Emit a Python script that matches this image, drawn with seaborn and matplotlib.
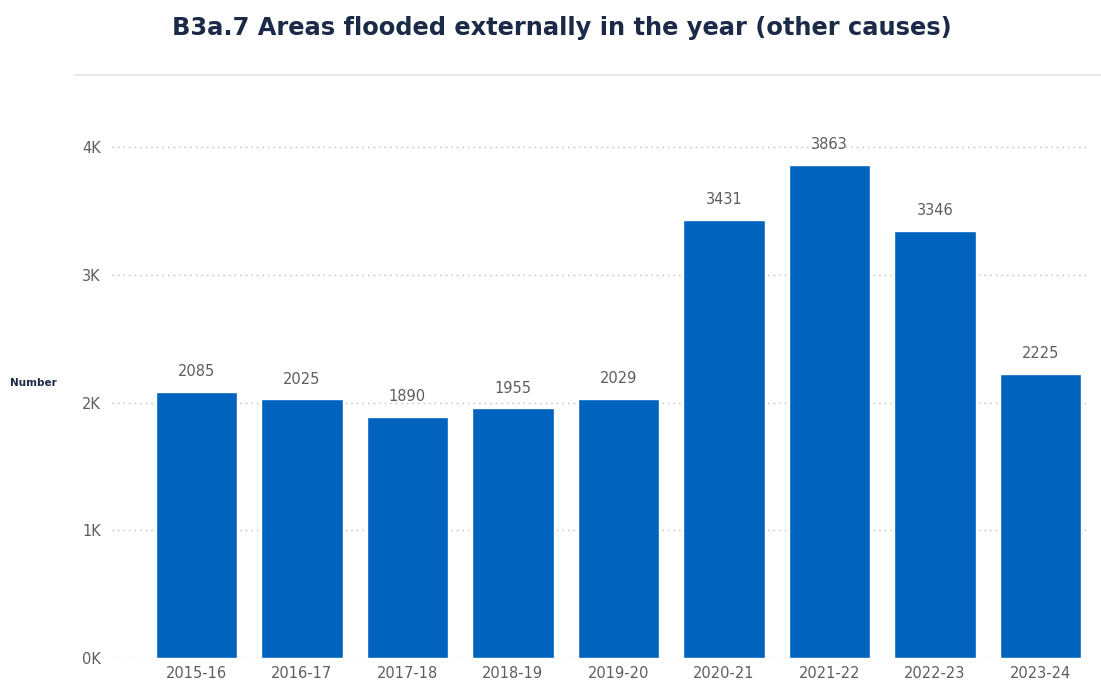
import matplotlib
matplotlib.use("Agg")
import matplotlib.pyplot as plt
from matplotlib.lines import Line2D
from matplotlib.ticker import FuncFormatter
import seaborn as sns
import pandas as pd

years = ["2015-16", "2016-17", "2017-18", "2018-19", "2019-20",
         "2020-21", "2021-22", "2022-23", "2023-24"]
values = [2085, 2025, 1890, 1955, 2029, 3431, 3863, 3346, 2225]
yticks = [0, 1000, 2000, 3000, 4000]

df = pd.DataFrame({"year": years, "value": values})

sns.set_theme(style="white")
plt.rcParams['font.family'] = ['DejaVu Sans']

fig = plt.figure(figsize=(11.01, 6.81), dpi=100)
ax = fig.add_axes([112/1101, 23/681, (1090-112)/1101, (658-96)/681])

sns.barplot(data=df, x="year", y="value", color="#0063BE", saturation=1,
            width=0.77, ax=ax, zorder=3)

ax.set_xlim(-0.8, 8.47)
ax.set_ylim(0, 4400)
ax.set_yticks(yticks)
ax.yaxis.set_major_formatter(FuncFormatter(lambda v, p: f"{int(v/1000)}K"))
ax.grid(axis="y", color="#BDBDBD", linestyle=(0, (1, 3)), linewidth=1, zorder=0)
for s in ax.spines.values():
    s.set_visible(False)
ax.set_xlabel("")
ax.set_ylabel("")
ax.tick_params(axis="both", length=0, labelsize=10.5, colors="#605E5C", pad=6)
ax.tick_params(axis="y", pad=8)

for i, v in enumerate(values):
    ax.annotate(f"{v}", (i, v), xytext=(0, 9), textcoords="offset points",
                ha="center", va="bottom", fontsize=10.5, color="#605E5C")

fig.text(562/1101, 1 - 28/681, "B3a.7 Areas flooded externally in the year (other causes)",
         ha="center", va="center", fontsize=17.4, fontweight="bold", color="#1B2A47")
fig.text(10/1101, 1 - 383/681, "Number", ha="left", va="center",
         fontsize=7.5, fontweight="bold", color="#1B2A47")
fig.add_artist(Line2D([75/1101, 1.0], [1 - 75/681, 1 - 75/681],
                      transform=fig.transFigure, color="#E3E6EA", linewidth=1.2))

fig.savefig("out.png", dpi=100)
